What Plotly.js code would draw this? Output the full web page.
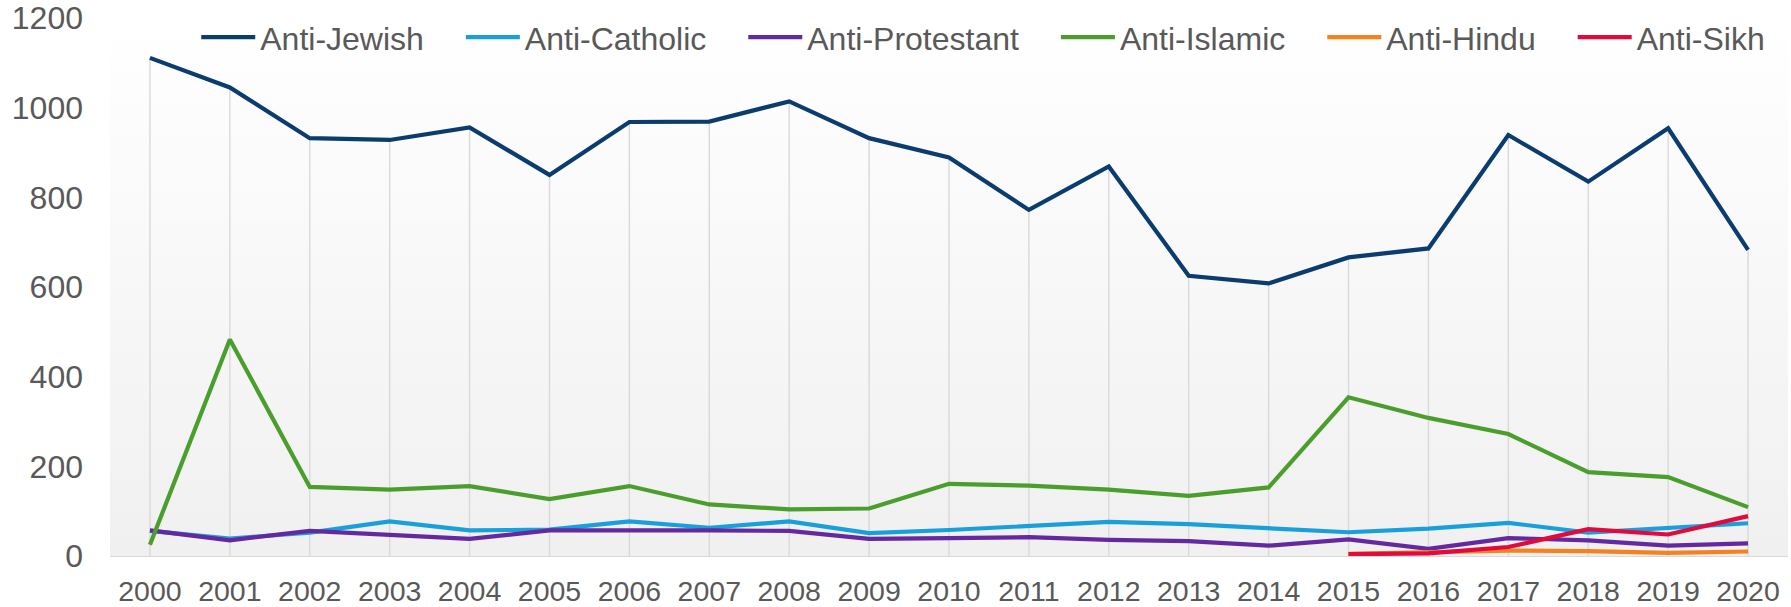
<!DOCTYPE html>
<html>
<head>
<meta charset="utf-8">
<script src="https://cdn.plot.ly/plotly-3.0.1.min.js"></script>
<style>
  html, body { margin: 0; padding: 0; background: #ffffff; }
  #chart { width: 1791px; height: 607px; }
</style>
</head>
<body>
<div id="chart"></div>
<script>
// ---- Data ----
const years = [2000, 2001, 2002, 2003, 2004, 2005, 2006, 2007, 2008, 2009, 2010,
               2011, 2012, 2013, 2014, 2015, 2016, 2017, 2018, 2019, 2020];
const antiJewish = [1111, 1045, 932, 928, 956, 850, 968, 969, 1014, 932, 889,
                    772, 869, 625, 608, 666, 686, 939, 835, 954, 683];
const antiCatholic = [56, 39, 52, 77, 57, 59, 77, 63, 77, 51, 58,
                      66, 76, 71, 63, 53, 61, 74, 52, 63, 73];
const antiProtestant = [57, 35, 56, 48, 38, 57, 58, 57, 56, 38, 40,
                        42, 36, 33, 23, 37, 16, 40, 35, 23, 28];
const antiIslamic = [25, 483, 154, 148, 156, 127, 156, 115, 104, 106, 161,
                     157, 148, 134, 153, 354, 308, 272, 187, 176, 109];
const antiHindu = [null, null, null, null, null, null, null, null, null, null, null,
                   null, null, null, null, 5, 9, 12, 11, 7, 10];
const antiSikh = [null, null, null, null, null, null, null, null, null, null, null,
                  null, null, null, null, 4, 6, 20, 60, 48, 89];
const seriesNames = ["Anti-Jewish", "Anti-Catholic", "Anti-Protestant",
                     "Anti-Islamic", "Anti-Hindu", "Anti-Sikh"];
const yTicks = [0, 200, 400, 600, 800, 1000, 1200];

// ---- Styling ----
const colors = ["#0b3c70", "#18a0dc", "#6428a0", "#4a9e2c", "#f5821f", "#e00a3c"];
const FONT = "Liberation Sans, Arial, sans-serif";
const TEXT = "#595959";
const GRID = "#d9d9d9";
const legendPad = "\u2003";

const seriesValues = [antiJewish, antiCatholic, antiProtestant, antiIslamic, antiHindu, antiSikh];

// drop lines from the top series down to the axis
const dropX = [], dropY = [];
years.forEach((yr, i) => {
  dropX.push(yr, yr, null);
  dropY.push(antiJewish[i], 0, null);
});

const traces = [{
  x: dropX, y: dropY, mode: "lines", type: "scatter",
  line: { color: GRID, width: 1.4 },
  hoverinfo: "skip", showlegend: false
}];

seriesNames.forEach((name, k) => {
  const last = k === seriesNames.length - 1;
  traces.push({
    x: years, y: seriesValues[k], name: last ? name : name + legendPad,
    type: "scatter", mode: "lines",
    line: { color: colors[k], width: 4.2 },
    connectgaps: false
  });
});

const svgBg = "<svg xmlns='http://www.w3.org/2000/svg' width='100' height='100' preserveAspectRatio='none'>" +
  "<defs><linearGradient id='g' x1='0' y1='0' x2='0' y2='1'>" +
  "<stop offset='0' stop-color='#ffffff'/><stop offset='1' stop-color='#f0f0f0'/>" +
  "</linearGradient></defs><rect width='100' height='100' fill='url(#g)'/></svg>";

const layout = {
  width: 1791, height: 607,
  margin: { l: 110, r: 3, t: 18, b: 51, pad: 0, autoexpand: false },
  paper_bgcolor: "#ffffff",
  plot_bgcolor: "rgba(0,0,0,0)",
  font: { family: FONT, color: TEXT },
  images: [{
    source: "data:image/svg+xml;charset=utf-8," + encodeURIComponent(svgBg),
    xref: "paper", yref: "paper", x: 0, y: 1, sizex: 1, sizey: 1,
    xanchor: "left", yanchor: "top", sizing: "stretch", layer: "below"
  }],
  xaxis: {
    range: [1999.5, 2020.5],
    tickmode: "array", tickvals: years, ticktext: years.map(String),
    showgrid: false, zeroline: false,
    showline: true, linecolor: GRID, linewidth: 1.3,
    ticks: "", ticklabelstandoff: 9,
    tickfont: { family: FONT, size: 28.5, color: TEXT },
    fixedrange: true
  },
  yaxis: {
    range: [0, 1200],
    tickmode: "array", tickvals: yTicks, ticktext: yTicks.map(String),
    showgrid: false, zeroline: false, showline: false,
    ticks: "", ticklabelstandoff: 26,
    tickfont: { family: FONT, size: 32, color: TEXT },
    fixedrange: true
  },
  showlegend: true,
  legend: {
    orientation: "h",
    x: 0.0514, xanchor: "left",
    y: 0.964, yanchor: "middle",
    itemwidth: 54,
    bgcolor: "rgba(0,0,0,0)",
    borderwidth: 0,
    font: { family: FONT, size: 32, color: TEXT },
    traceorder: "normal"
  }
};

Plotly.newPlot("chart", traces, layout, { displayModeBar: false, staticPlot: true });
</script>
</body>
</html>
